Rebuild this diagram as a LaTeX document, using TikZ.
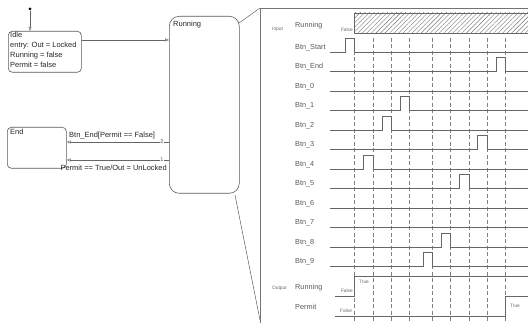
\documentclass[tikz,border=0pt]{standalone}
\usepackage{fontspec}
\setmainfont{Liberation Sans}
\usetikzlibrary{arrows.meta,patterns.meta}
\begin{document}
\begin{tikzpicture}[x=1pt,y=-1pt,
  box/.style={draw=black!65, line width=0.6pt, rounded corners=4pt, anchor=north west, inner sep=0},
  st/.style={font=\fontsize{7.5}{10}\selectfont, align=left, anchor=north west, inner sep=0, text=black!85},
  trans/.style={draw=black!60, line width=0.5pt, -{Triangle[open,length=4pt,width=3pt]}},
  sig/.style={draw=black!60, line width=0.6pt},
  gridl/.style={draw=black!50, line width=0.5pt, dash pattern=on 4pt off 2.5pt},
  lab/.style={font=\fontsize{7.3}{8}\selectfont, text=black!65, anchor=west, inner sep=0},
  tiny/.style={font=\fontsize{4.8}{5}\selectfont, text=black!60, inner sep=0},
  num/.style={font=\fontsize{5.5}{6}\selectfont, text=black!70, fill=white, inner sep=0.6pt},
]
\useasboundingbox (0,0) rectangle (528,323);
% states
\node[box, minimum width=73pt, minimum height=41pt] (idle) at (8,31) {};
\node[st] (idletext) at ([shift={(2,0.5)}]idle.north west) {Idle\\entry: Out = Locked\\Running = false\\Permit = false};
\node[box, rounded corners=10pt, minimum width=70pt, minimum height=177pt] (run) at (169,16) {};
\node[st] (runtext) at ([shift={(4,5)}]run.north west) {Running};
\node[box, minimum width=59pt, minimum height=41pt] (end) at (7,127) {};
\node[st] (endtext) at ([shift={(3,2)}]end.north west) {End};
% initial
\node[circle, fill=black, inner sep=0, minimum size=3pt] (init) at (30,9) {};
\draw[trans] (init) -- (init |- idle.north);
% transitions
\coordinate (y40) at (0,40);
\coordinate (y142) at (0,142);
\coordinate (y160) at (0,160);
\draw[trans] (idle.east |- y40) -- (run.west |- y40);
\draw[trans] (run.west |- y142) -- node[num, pos=0.07] {2} (end.east |- y142);
\draw[trans] (run.west |- y160) -- node[num, pos=0.07] {1} (end.east |- y160);
\node[st, anchor=south west] (l2) at (69,139) {Btn\_End[Permit == False]};
\node[st, anchor=north east] (l1) at (167,165) {Permit == True/Out = UnLocked};
% zoom lines
\coordinate (z1) at (239,23);
\coordinate (z2) at (260,8);
\coordinate (z3) at (235,195);
\coordinate (z4) at (260,320);
\draw[black!60, line width=0.5pt] (z1) -- (z2);
\draw[black!60, line width=0.5pt] (z3) -- (z4);
% panel
\draw[black!55, line width=0.8pt] (260,323) -- (260,8) -- (528,8);
\draw[black!60, line width=0.6pt, pattern={Lines[angle=45,distance=3.2pt,line width=0.4pt]}, pattern color=black!55] (354,13) rectangle (528,33);
\node[tiny, anchor=west] (inp) at (272,29) {Input};
\node[tiny, anchor=west] (outp) at (272,288) {Output};
\node[lab] (lrun) at (295,26) {Running};
\node[tiny, anchor=east] (rf) at (353,29.5) {False};
% grid
\foreach \x in {354,373,391,409,432,450,469,487,505}
  \draw[gridl] (\x,38) -- (\x,323);
% labels
\foreach \nm [count=\i from 0] in {Btn\_Start,Btn\_End,Btn\_0,Btn\_1,Btn\_2,Btn\_3,Btn\_4,Btn\_5,Btn\_6,Btn\_7,Btn\_8,Btn\_9}
  \node[lab] (lbl\i) at (295,{47.5+19.5*\i}) {\nm};
% signals
\foreach \i/\a/\b in {0/345/354,1/496/505,3/400/409,4/382/391,5/477/487,6/363/373,7/459/469,10/441/450,11/423/432}{
  \pgfmathsetmacro\yb{52+19.5*\i}
  \draw[sig] (330,\yb) -- (\a,\yb) -- (\a,{\yb-14}) -- (\b,{\yb-14}) -- (\b,\yb) -- (528,\yb);
}
\foreach \i in {2,8,9}{
  \pgfmathsetmacro\yb{52+19.5*\i}
  \draw[sig] (330,\yb) -- (528,\yb);
}
% outputs
\node[lab] (lorun) at (295,288) {Running};
\node[lab] (loper) at (295,307) {Permit};
\draw[sig] (335,296) -- (354,296) -- (354,276) -- (528,276);
\node[tiny, anchor=east] (of1) at (353,291) {False};
\node[tiny, anchor=west] (ot1) at (359,282) {True};
\draw[sig] (335,316) -- (505,316) -- (505,296) -- (528,296);
\node[tiny, anchor=west] (of2) at (340,311) {False};
\node[tiny, anchor=west] (ot2) at (510,306) {True};
\end{tikzpicture}
\end{document}
